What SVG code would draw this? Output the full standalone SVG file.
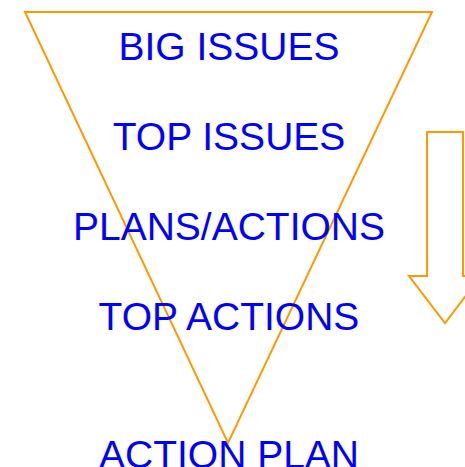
<svg xmlns="http://www.w3.org/2000/svg" width="465" height="467" viewBox="0 0 465 467">
  <style>
    .shape { fill: none; stroke: #ff9900; stroke-width: 2; stroke-linejoin: miter; }
    .label { font-family: "Liberation Sans", Arial, sans-serif; font-size: 39px; fill: #0000ff; text-anchor: middle; }
  </style>
  <rect width="465" height="467" fill="#ffffff"/>
  <!-- funnel -->
  <g id="funnel">
    <polygon class="shape" points="25,12 432,12 228,443"/>
  </g>
  <!-- down arrow at right edge -->
  <g id="arrow">
    <polygon class="shape" points="427,132 463,132 463,276 481,276 445,323 409,276 427,276"/>
  </g>
  <g id="labels">
    <text class="label" x="229" y="60">BIG ISSUES</text>
    <text class="label" x="229" y="150">TOP ISSUES</text>
    <text class="label" x="229" y="240">PLANS/ACTIONS</text>
    <text class="label" x="229" y="330">TOP ACTIONS</text>
    <text class="label" x="229" y="468">ACTION PLAN</text>
  </g>
</svg>
